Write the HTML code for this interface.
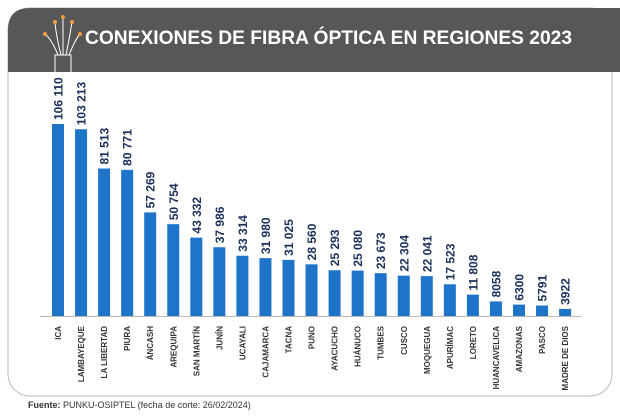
<!DOCTYPE html>
<html><head><meta charset="utf-8"><style>
body{margin:0;background:#fff;width:620px;height:413px;overflow:hidden;font-family:"Liberation Sans",sans-serif}
</style></head><body>
<svg width="620" height="413">
<rect x="8" y="8" width="604" height="388" rx="22" fill="#fff" stroke="#bbb" stroke-width="1"/>
<path d="M8 72 V30 Q8 8 30 8 H620 V72 Z" fill="#575757"/>
<g stroke="#fff" stroke-width="1" fill="none">
<rect x="55" y="55" width="16" height="22"/>
<path d="M58 55 Q52 40 45 34 M61 55 Q56 35 55 22 M63 55 Q63 30 63 17 M66 55 Q70 35 72 22 M69 55 Q75 40 80 34"/>
<g fill="#f0a040" stroke="none"><circle cx="45" cy="34" r="2"/><circle cx="55" cy="22" r="2"/><circle cx="63" cy="17" r="2"/><circle cx="72" cy="22" r="2"/><circle cx="80" cy="34" r="2"/></g>
</g>
<text x="85" y="44" fill="#fff" font-size="19" font-weight="bold" textLength="487" lengthAdjust="spacingAndGlyphs">CONEXIONES DE FIBRA ÓPTICA EN REGIONES 2023</text>
<line x1="40" y1="316.5" x2="582" y2="316.5" stroke="#bbb"/>
<g id="bars"></g>
<text x="28" y="408" font-size="9" fill="#333"><tspan font-weight="bold">Fuente:</tspan> PUNKU-OSIPTEL (fecha de corte: 26/02/2024)</text>
</svg>
<script>
const categories=["ICA","LAMBAYEQUE","LA LIBERTAD","PIURA","ÁNCASH","AREQUIPA","SAN MARTÍN","JUNÍN","UCAYALI","CAJAMARCA","TACNA","PUNO","AYACUCHO","HUÁNUCO","TUMBES","CUSCO","MOQUEGUA","APURÍMAC","LORETO","HUANCAVELICA","AMAZONAS","PASCO","MADRE DE DIOS"];
const values=[106110,103213,81513,80771,57269,50754,43332,37986,33314,31980,31025,28560,25293,25080,23673,22304,22041,17523,11808,8058,6300,5791,3922];
const labels=["106 110","103 213","81 513","80 771","57 269","50 754","43 332","37 986","33 314","31 980","31 025","28 560","25 293","25 080","23 673","22 304","22 041","17 523","11 808","8058","6300","5791","3922"];
const NS="http://www.w3.org/2000/svg",g=document.getElementById('bars');
const base=316,scale=192/106110;
const x=i=>58+i*23.05, y=v=>base-v*scale;
categories.forEach((c,i)=>{
 const cx=x(i),top=y(values[i]);
 const r=document.createElementNS(NS,'rect');
 r.setAttribute('x',cx-6);r.setAttribute('y',top);r.setAttribute('width',12);r.setAttribute('height',base-top);r.setAttribute('fill','#1e74c9');
 
 
 g.appendChild(r);
 const t=document.createElementNS(NS,'text');
 t.setAttribute('transform',`translate(${cx+4.5},${top-4}) rotate(-90)`);
 t.setAttribute('font-size','12');t.setAttribute('font-weight','bold');t.setAttribute('fill','#1a2f5a');
 t.textContent=labels[i];
 
 
 g.appendChild(t);
 const l=document.createElementNS(NS,'text');
 l.setAttribute('transform',`translate(${cx+3},326) rotate(-90)`);
 l.setAttribute('text-anchor','end');l.setAttribute('font-size','8');l.setAttribute('font-weight','bold');l.setAttribute('fill','#333');
 l.textContent=c;
 
 
 g.appendChild(l);
});
</script>
</body></html>
